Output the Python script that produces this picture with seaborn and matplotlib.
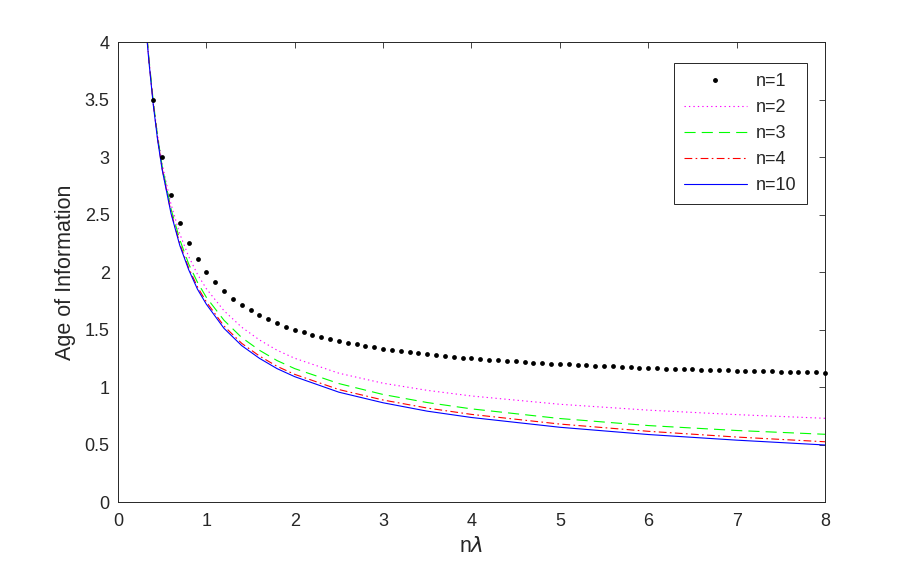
import numpy as np
import pandas as pd
import matplotlib
matplotlib.use("Agg")
import matplotlib.pyplot as plt
import seaborn as sns
from matplotlib.lines import Line2D

# n=1: one dot every 0.1 of n*lambda
x_n1 = [0.4, 0.5, 0.6, 0.7, 0.8, 0.9, 1.0, 1.1, 1.2, 1.3, 1.4, 1.5, 1.6, 1.7, 1.8, 1.9,
        2.0, 2.1, 2.2, 2.3, 2.4, 2.5, 2.6, 2.7, 2.8, 2.9, 3.0, 3.1, 3.2, 3.3, 3.4, 3.5,
        3.6, 3.7, 3.8, 3.9, 4.0, 4.1, 4.2, 4.3, 4.4, 4.5, 4.6, 4.7, 4.8, 4.9, 5.0, 5.1,
        5.2, 5.3, 5.4, 5.5, 5.6, 5.7, 5.8, 5.9, 6.0, 6.1, 6.2, 6.3, 6.4, 6.5, 6.6, 6.7,
        6.8, 6.9, 7.0, 7.1, 7.2, 7.3, 7.4, 7.5, 7.6, 7.7, 7.8, 7.9, 8.0]
y_n1 = [3.5, 3.0, 2.667, 2.429, 2.25, 2.111, 2.0, 1.909, 1.833, 1.769, 1.714, 1.667, 1.625,
        1.588, 1.556, 1.526, 1.5, 1.476, 1.455, 1.435, 1.417, 1.4, 1.385, 1.370, 1.357,
        1.345, 1.333, 1.323, 1.313, 1.303, 1.294, 1.286, 1.278, 1.270, 1.263, 1.256, 1.25,
        1.244, 1.238, 1.233, 1.227, 1.222, 1.217, 1.213, 1.208, 1.204, 1.2, 1.196, 1.192,
        1.189, 1.185, 1.182, 1.179, 1.175, 1.172, 1.169, 1.167, 1.164, 1.161, 1.159, 1.156,
        1.154, 1.152, 1.149, 1.147, 1.145, 1.143, 1.141, 1.139, 1.137, 1.135, 1.133, 1.132,
        1.130, 1.128, 1.127, 1.125]

# sampled positions for the continuous curves
x_line = [0.33, 0.35, 0.4, 0.45, 0.5, 0.6, 0.7, 0.8, 0.9, 1.0, 1.2, 1.4, 1.6, 1.8, 2.0,
          2.5, 3.0, 3.5, 4.0, 5.0, 6.0, 7.0, 8.0]
y_n2 = [4.02, 3.84, 3.47, 3.18, 2.94, 2.59, 2.33, 2.135, 1.98, 1.855, 1.663, 1.52, 1.41,
        1.32, 1.25, 1.12, 1.033, 0.971, 0.922, 0.85, 0.799, 0.76, 0.728]
y_n3 = [4.04, 3.86, 3.48, 3.17, 2.92, 2.55, 2.28, 2.07, 1.91, 1.78, 1.58, 1.43, 1.32,
        1.23, 1.16, 1.03, 0.935, 0.865, 0.81, 0.726, 0.665, 0.622, 0.589]
y_n4 = [4.02, 3.84, 3.46, 3.15, 2.90, 2.52, 2.245, 2.035, 1.87, 1.74, 1.53, 1.38, 1.27,
        1.18, 1.11, 0.978, 0.887, 0.817, 0.762, 0.678, 0.615, 0.565, 0.524]
y_n10 = [4.01, 3.83, 3.45, 3.14, 2.89, 2.51, 2.23, 2.02, 1.85, 1.72, 1.51, 1.36, 1.25,
         1.16, 1.09, 0.955, 0.863, 0.79, 0.735, 0.65, 0.587, 0.538, 0.496]

sns.set_theme(style="white")
plt.rcParams["font.family"] = ["Liberation Sans", "DejaVu Sans"]
plt.rcParams["mathtext.fontset"] = "dejavusans"

dark = "#262626"
fig = plt.figure(figsize=(9.11, 5.71), dpi=100)
ax = fig.add_axes([0.1295, 0.1208, 0.7761, 0.8056])

lw = 0.8
line_specs = [
    (y_n2, "#ff00ff", (0, (1.2, 2.8)), "n=2"),
    (y_n3, "#00ff00", (0, (10, 5.5)), "n=3"),
    (y_n4, "#ff0000", (0, (7, 3, 1.5, 3)), "n=4"),
    (y_n10, "#0000ff", "-", "n=10"),
]

df_dots = pd.DataFrame({"x": x_n1, "y": y_n1})
sns.scatterplot(data=df_dots, x="x", y="y", ax=ax, color="black", marker="o",
                s=12, linewidth=0, clip_on=False, zorder=3, legend=False)

for yv, col, ls, lab in line_specs:
    d = pd.DataFrame({"x": x_line, "y": yv})
    sns.lineplot(data=d, x="x", y="y", ax=ax, color=col, linestyle=ls, linewidth=lw,
                 legend=False)

ax.set_xlim(0, 8)
ax.set_ylim(0, 4)
ax.set_xticks(range(0, 9))
ax.set_yticks([0, 0.5, 1, 1.5, 2, 2.5, 3, 3.5, 4])
ax.set_yticklabels(["0", "0.5", "1", "1.5", "2", "2.5", "3", "3.5", "4"])
ax.tick_params(direction="in", top=True, right=True, length=4.5, width=0.6,
               color=dark, labelcolor=dark, labelsize=13, pad=6)
ax.tick_params(axis="x", pad=8)
for sp in ax.spines.values():
    sp.set_color(dark)
    sp.set_linewidth(0.7)

ax.set_xlabel(r"n$\lambda$", fontsize=15.5, color=dark, labelpad=4)
ax.set_ylabel("Age of Information", fontsize=15.5, color=dark, labelpad=6)

handles = [Line2D([0], [0], marker="o", color="none", markerfacecolor="black",
                  markeredgecolor="black", markersize=2.5, label="n=1")]
for yv, col, ls, lab in line_specs:
    handles.append(Line2D([0], [0], color=col, linestyle=ls, linewidth=lw, label=lab))
leg = ax.legend(handles=handles, loc="upper right", bbox_to_anchor=(0.974, 0.954),
                borderaxespad=0, fontsize=13, handlelength=3.5, handletextpad=0.5,
                labelspacing=0.5, frameon=True, fancybox=False, framealpha=1,
                borderpad=0.55)
leg.get_frame().set_edgecolor(dark)
leg.get_frame().set_linewidth(0.7)
for t in leg.get_texts():
    t.set_color(dark)

fig.savefig("out.png", dpi=100)
